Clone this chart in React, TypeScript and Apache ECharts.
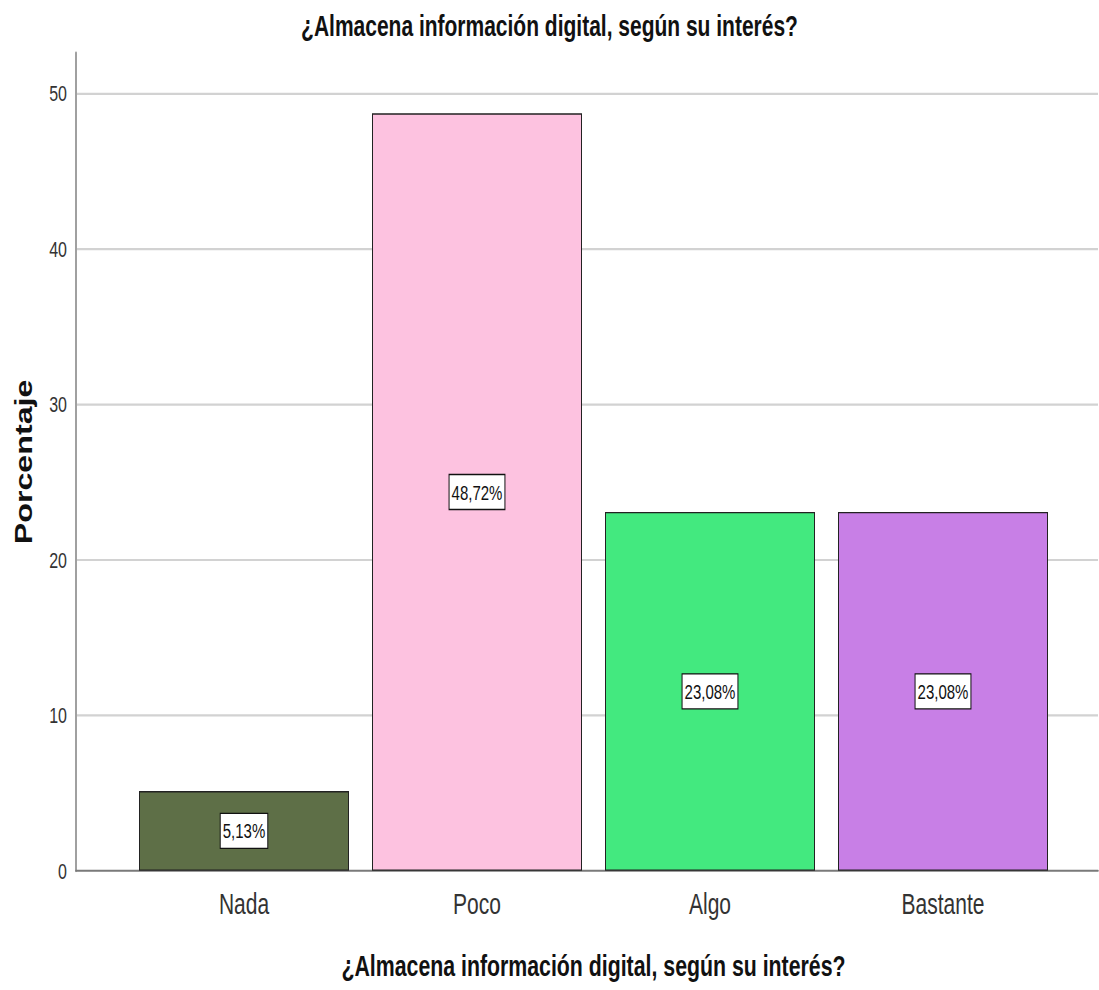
import React, { useEffect, useRef } from "react";
import * as echarts from "echarts";

const TITLE = "¿Almacena información digital, según su interés?";
const categories = ["Nada", "Poco", "Algo", "Bastante"];
const values = [5.13, 48.72, 23.08, 23.08];
const labels = ["5,13%", "48,72%", "23,08%", "23,08%"];
const colors = ["#5e6f47", "#fdc2e0", "#43e97f", "#c87fe6"];
const yTicks = [0, 10, 20, 30, 40, 50];

const S = 1.4; // vertical stretch of the reference
const W = 1099;
const H = 990 / S;

export default function App() {
  const ref = useRef<HTMLDivElement>(null);
  useEffect(() => {
    document.body.style.margin = "0";
    const chart = echarts.init(ref.current!, null, { renderer: "svg" });
    const narrow = "'Liberation Sans Narrow', 'Arial Narrow', 'Liberation Sans', sans-serif";
    const sans = "'Liberation Sans', Arial, sans-serif";
    const top = 53 / S;
    const bottom = H - 871 / S;
    const ymax = 52.6;
    chart.setOption({
      animation: false,
      title: {
        text: TITLE,
        left: "center",
        top: 3,
        textStyle: { fontFamily: sans, fontWeight: "bold", fontSize: 21, color: "#111" },
      },
      grid: [
        { left: 76, right: 1, top, bottom },
        { left: 127.5, right: 39.5, top, bottom },
      ],
      xAxis: [
        {
          type: "value",
          gridIndex: 0,
          min: 0,
          max: 1,
          axisLine: { show: true, lineStyle: { color: "#7a7a7a", width: 1.5 } },
          axisTick: { show: false },
          axisLabel: { show: false },
          splitLine: { show: false },
        },
        {
          type: "category",
          gridIndex: 1,
          data: categories,
          axisLine: { show: false },
          axisTick: { show: false },
          axisLabel: { margin: 13, fontFamily: narrow, fontSize: 21, color: "#333" },
          name: TITLE,
          nameLocation: "middle",
          nameGap: 57,
          nameTextStyle: { fontFamily: sans, fontWeight: "bold", fontSize: 21.3, color: "#111" },
        },
      ],
      yAxis: [
        {
          type: "value",
          gridIndex: 0,
          min: 0,
          max: ymax,
          interval: 10,
          axisLine: { show: true, lineStyle: { color: "#a0a0a0", width: 2 } },
          axisTick: { show: false },
          axisLabel: {
            margin: 9,
            fontFamily: narrow,
            fontSize: 16,
            color: "#333",
            showMaxLabel: false,
            formatter: (v: number) => (yTicks.includes(v) ? String(v) : ""),
          },
          splitLine: {
            show: true,
            showMinLine: false,
            showMaxLine: false,
            lineStyle: { color: "#d2d2d2", width: 1.6 },
          },
          name: "Porcentaje",
          nameLocation: "middle",
          nameGap: 40,
          nameRotate: 90,
          nameTextStyle: { fontFamily: sans, fontWeight: "bold", fontSize: 23, color: "#111" },
        },
        {
          type: "value",
          gridIndex: 1,
          min: 0,
          max: ymax,
          show: false,
        },
      ],
      series: [
        {
          type: "bar",
          xAxisIndex: 1,
          yAxisIndex: 1,
          barWidth: 210,
          data: values.map((v, i) => ({
            value: v,
            itemStyle: { color: colors[i], borderColor: "#222", borderWidth: 1 },
          })),
          label: {
            show: true,
            position: "inside",
            formatter: (p: any) => labels[p.dataIndex],
            fontFamily: narrow,
            fontSize: 15,
            color: "#111",
            backgroundColor: "#fff",
            borderColor: "#111",
            borderWidth: 1,
            padding: [5, 2, 4, 2],
          },
        },
      ],
    });
    return () => chart.dispose();
  }, []);
  return (
    <div style={{ width: W, height: 990, overflow: "hidden", position: "relative" }}>
      <div
        ref={ref}
        style={{
          width: W,
          height: H,
          position: "absolute",
          left: 0,
          top: 0,
          transform: `scaleY(${S})`,
          transformOrigin: "0 0",
        }}
      />
    </div>
  );
}
